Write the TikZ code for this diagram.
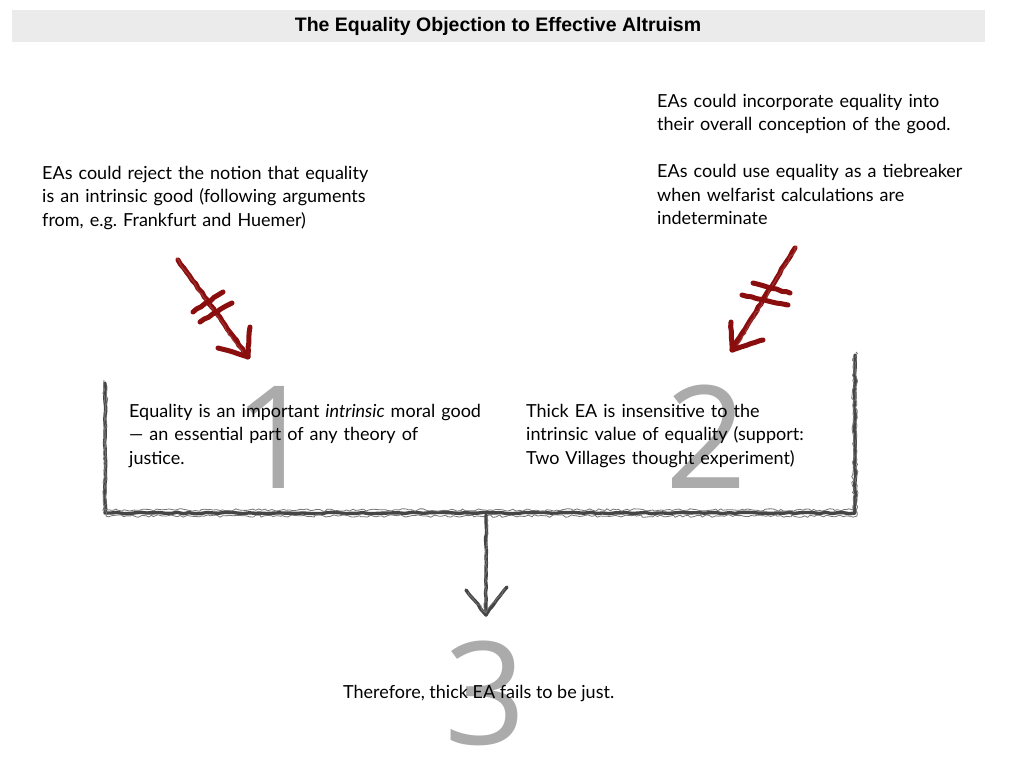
\documentclass[tikz,border=0pt]{standalone}
\usepackage{fontspec}
\setmainfont{Lato}
\newfontfamily\titlefont{Liberation Sans}
\newfontfamily\numfont{Open Sans}
\usetikzlibrary{decorations.pathmorphing}
\definecolor{titlebg}{HTML}{EBEBEB}
\definecolor{arrowred}{HTML}{8A0E0E}
\definecolor{numgray}{HTML}{ABABAB}
\definecolor{sketchgray}{HTML}{454545}
\begin{document}
\pgfmathsetseed{7}
\begin{tikzpicture}[x=1pt,y=-1pt,
  body/.style={font=\fontsize{18}{23.5}\selectfont, align=left, text width=#1, anchor=base west, inner sep=0pt, text=black},
  bignum/.style={font=\numfont\fontsize{143}{143}\selectfont, text=numgray, inner sep=0pt, anchor=base},
  sketch/.style={draw=sketchgray, line width=3.4pt, line cap=round, line join=round, decorate, decoration={random steps, segment length=6pt, amplitude=0.7pt}},
  sketchthin/.style={draw=sketchgray!75, line width=0.8pt, decorate, decoration={random steps, segment length=3pt, amplitude=1.3pt}},
  redline/.style={draw=arrowred, line width=5pt, line cap=round, line join=round, decorate, decoration={random steps, segment length=5pt, amplitude=0.6pt}},
  redthin/.style={draw=arrowred!85, line width=1.2pt, decorate, decoration={random steps, segment length=3pt, amplitude=1.2pt}},
]
\useasboundingbox (0,0) rectangle (1024,768);
\fill[white] (0,0) rectangle (1024,768);

% title bar
\fill[titlebg] (12,10) rectangle (985,42);
\node[font=\titlefont\bfseries\fontsize{19.5}{22}\selectfont, inner sep=0pt] (title) at (498,26) {The Equality Objection to Effective Altruism};

% big numbers (behind text)
\node[bignum] (n1) at (275,488) {1};
\node[bignum] (n2) at (706,488) {2};
\node[bignum] (n3) at (485,744) {3};

% top texts
\node[body=360pt] (objL) at (42,179) {EAs could reject the notion that equality\\is an intrinsic good (following arguments\\from, e.g.\ Frankfurt and Huemer)};
\node[body=360pt] (objR) at (657,107) {EAs could incorporate equality into\\their overall conception of the good.\\[23.5pt]EAs could use equality as a tiebreaker\\when welfarist calculations are\\indeterminate};

% premises
\node[body=380pt] (p1) at (129,417) {Equality is an important \textit{intrinsic} moral good\\--- an essential part of any theory of\\justice.};
\node[body=320pt] (p2) at (526,417) {Thick EA is insensitive to the\\intrinsic value of equality (support:\\Two Villages thought experiment)};

% conclusion
\node[font=\fontsize{18}{22}\selectfont, inner sep=0pt, anchor=base west] (concl) at (343,698) {Therefore, thick EA fails to be just.};

% bracket box
\coordinate (bl-top) at (105,383);
\coordinate (bl) at (105,513);
\coordinate (br) at (855,513);
\coordinate (br-top) at (855,355);
\draw[sketch] (bl-top) -- (bl) -- (br) -- (br-top);
\draw[sketchthin] (104,380) -- (106,516) -- (857,516) -- (856,352);
\draw[sketchthin] (107,386) -- (103,510) -- (853,510) -- (853,358);

% down arrow
\coordinate (dstart) at (486,515);
\coordinate (dtip) at (486,615);
\draw[sketch] (dstart) -- (dtip);
\draw[sketch] (466,590) -- (dtip) -- (507,587);
\draw[sketchthin] (487,517) -- (485,612);
\draw[sketchthin] (468,592) -- (486,613) -- (505,589);

% left red arrow
\coordinate (lstart) at (178,260);
\coordinate (ltip) at (248,357);
\draw[redline] (lstart) -- (ltip);
\draw[redthin] (176,258) -- (247,359);
\draw[redline] (193,312) -- (223,292);
\draw[redline] (200,322) -- (232,303);
\draw[redline] (218,348) -- (ltip) -- (250,327);

% right red arrow
\coordinate (rstart) at (795,248);
\coordinate (rtip) at (732,350);
\draw[redline] (rstart) -- (rtip);
\draw[redthin] (797,246) -- (733,352);
\draw[redline] (753,283) -- (790,293);
\draw[redline] (742,295) -- (788,305);
\draw[redline] (731,322) -- (rtip) -- (763,340);
\end{tikzpicture}
\end{document}
